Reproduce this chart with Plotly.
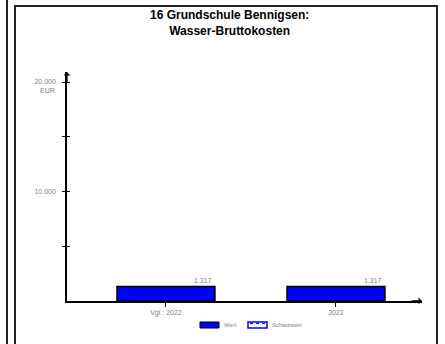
import plotly.graph_objects as go

# ── Data ─────────────────────────────────────────────────────────────────────
categories = ['Vgl.: 2022', '2022']
wert = [1317, 1317]
value_labels = ['1.317', '1.317']
y_tickvals = [5000, 10000, 15000, 20000]
y_ticktext = ['', '10.000', '', '20.000']

FONT = 'Liberation Sans, Arial, sans-serif'
GREY = '#808080'

# plot area in pixels (left, right, top, bottom)
L, R, T, B = 67, 422, 72, 301


def px(x):
    return (x - L) / (R - L)


def py(y):
    return (B - y) / (B - T)


fig = go.Figure()

fig.add_trace(go.Bar(
    x=categories, y=wert, width=0.576,
    marker=dict(color='#0000ff', line=dict(color='#000000', width=1.5)),
    showlegend=False, hoverinfo='skip',
))

# invisible trace for the second y axis (inside ticks)
fig.add_trace(go.Scatter(
    x=categories, y=[None, None], yaxis='y2', showlegend=False,
    hoverinfo='skip',
))

annotations = []
for i, (val, lab) in enumerate(zip(wert, value_labels)):
    annotations.append(dict(
        x=i, y=val, xref='x', yref='y', text=lab, showarrow=False,
        xanchor='right', yanchor='bottom', xshift=48, yshift=1,
        font=dict(size=7, color=GREY, family=FONT),
    ))

# unit label under the top tick
annotations.append(dict(
    x=0, y=20000, xref='paper', yref='y', text='EUR', showarrow=False,
    xanchor='right', yanchor='top', xshift=-10, yshift=-3,
    font=dict(size=7, color=GREY, family=FONT),
))

# axis arrows
annotations.append(dict(
    x=0, y=1, xref='paper', yref='paper', ax=0, ay=12, text='',
    showarrow=True, arrowhead=1, arrowsize=0.9, arrowwidth=1.3,
    arrowcolor='#000000',
))
annotations.append(dict(
    x=1, y=0, xref='paper', yref='paper', ax=-12, ay=0, text='',
    showarrow=True, arrowhead=1, arrowsize=0.9, arrowwidth=1.3,
    arrowcolor='#000000',
))

# title
annotations.append(dict(
    x=px(229), y=py(6), xref='paper', yref='paper',
    text='<b>16 Grundschule Bennigsen:<br>Wasser-Bruttokosten</b>',
    showarrow=False, xanchor='center', yanchor='top',
    font=dict(size=12, color='#000000', family=FONT),
))

# legend (drawn by hand)
annotations.append(dict(
    x=px(222), y=py(325), xref='paper', yref='paper', text='Wert',
    showarrow=False, xanchor='left', yanchor='middle',
    font=dict(size=6, color=GREY, family=FONT),
))
annotations.append(dict(
    x=px(270), y=py(325), xref='paper', yref='paper', text='Schätzwert',
    showarrow=False, xanchor='left', yanchor='middle',
    font=dict(size=6, color=GREY, family=FONT),
))

shapes = [
    # neighbouring panel edge and frame
    dict(type='line', xref='paper', yref='paper',
         x0=px(7), x1=px(7), y0=py(-5), y1=py(350),
         line=dict(color='#222222', width=2)),
    dict(type='rect', xref='paper', yref='paper',
         x0=px(15), x1=px(437), y0=py(6), y1=py(350),
         line=dict(color='#222222', width=2)),
    # legend boxes
    dict(type='rect', xref='paper', yref='paper',
         x0=px(200), x1=px(219), y0=py(322), y1=py(328),
         fillcolor='#0000ff', line=dict(color='#000000', width=1)),
    dict(type='rect', xref='paper', yref='paper',
         x0=px(248), x1=px(267), y0=py(322), y1=py(328),
         fillcolor='#ffffff', line=dict(color='#0000ff', width=1.5)),
    dict(type='line', xref='paper', yref='paper',
         x0=px(250), x1=px(265), y0=py(323.5), y1=py(323.5),
         line=dict(color='#0000ff', width=1, dash='dot')),
]

fig.update_layout(
    width=445, height=344,
    paper_bgcolor='#ffffff', plot_bgcolor='#ffffff',
    margin=dict(l=L, r=445 - R, t=T, b=344 - B),
    font=dict(family=FONT, size=7, color=GREY),
    xaxis=dict(
        type='category', range=[-0.582, 1.506],
        showgrid=False, zeroline=False,
        showline=True, linecolor='#000000', linewidth=1.5,
        ticks='outside', ticklen=4, tickcolor='#000000', tickwidth=1,
        tickfont=dict(size=7, color=GREY, family=FONT),
    ),
    yaxis=dict(
        range=[0, 20913], showgrid=False, zeroline=False,
        showline=True, linecolor='#000000', linewidth=1.5,
        tickvals=y_tickvals, ticktext=y_ticktext,
        ticks='outside', ticklen=3, tickcolor='#000000', tickwidth=1,
        ticklabelstandoff=5,
        tickfont=dict(size=7, color=GREY, family=FONT),
    ),
    yaxis2=dict(
        overlaying='y', side='left', range=[0, 20913],
        showgrid=False, zeroline=False, showline=False,
        tickvals=y_tickvals, showticklabels=False,
        ticks='inside', ticklen=3, tickcolor='#000000', tickwidth=1,
    ),
    annotations=annotations,
    shapes=shapes,
    showlegend=False,
    bargap=0.4,
)

# the page's default body margin would shift the figure by 8 px
fig.write_html(
    'out.html',
    config={'displayModeBar': False},
    post_script="document.body.style.margin='0';",
)
